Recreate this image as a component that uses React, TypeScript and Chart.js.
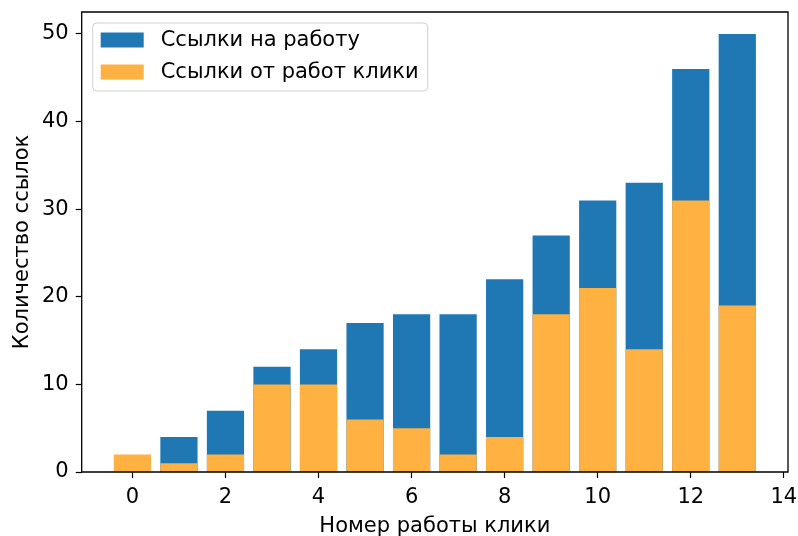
import React, { useEffect, useRef } from "react";
import { Chart, registerables } from "chart.js";

Chart.register(...registerables);

const workIndex = [0, 1, 2, 3, 4, 5, 6, 7, 8, 9, 10, 11, 12, 13];
const citationsTo = [0, 4, 7, 12, 14, 17, 18, 18, 22, 27, 31, 33, 46, 50];
const citationsFrom = [2, 1, 2, 10, 10, 6, 5, 2, 4, 18, 21, 14, 31, 19];
const xTicks = [0, 2, 4, 6, 8, 10, 12, 14];
const yTicks = [0, 10, 20, 30, 40, 50];
const seriesLabels = ["Ссылки на работу", "Ссылки от работ клики"];
const seriesColors = ["#1f77b4", "#ffb142"];
const xTitle = "Номер работы клики";
const yTitle = "Количество ссылок";

const FONT = "'DejaVu Sans', sans-serif";
const FS = 21;

const framePlugin = {
  id: "frame",
  afterDatasetsDraw(chart: any) {
    const { ctx, chartArea } = chart;
    const { left, right, top, bottom } = chartArea;
    ctx.save();
    ctx.strokeStyle = "#000";
    ctx.lineWidth = 1.3;
    ctx.beginPath();
    ctx.moveTo(left, bottom);
    ctx.lineTo(left, top);
    ctx.lineTo(right, top);
    ctx.lineTo(right, bottom);
    ctx.lineTo(left, bottom);
    ctx.stroke();

    // legend box
    const bx = left + 11;
    const by = top + 11;
    const bw = 335;
    const bh = 68;
    const r = 4;
    ctx.beginPath();
    ctx.moveTo(bx + r, by);
    ctx.lineTo(bx + bw - r, by);
    ctx.arcTo(bx + bw, by, bx + bw, by + r, r);
    ctx.lineTo(bx + bw, by + bh - r);
    ctx.arcTo(bx + bw, by + bh, bx + bw - r, by + bh, r);
    ctx.lineTo(bx + r, by + bh);
    ctx.arcTo(bx, by + bh, bx, by + bh - r, r);
    ctx.lineTo(bx, by + r);
    ctx.arcTo(bx, by, bx + r, by, r);
    ctx.closePath();
    ctx.fillStyle = "rgba(255,255,255,0.8)";
    ctx.fill();
    ctx.strokeStyle = "#d0d0d0";
    ctx.lineWidth = 1;
    ctx.stroke();

    ctx.font = `${FS}px ${FONT}`;
    ctx.textBaseline = "middle";
    ctx.textAlign = "left";
    seriesLabels.forEach((lab, i) => {
      const cy = by + 17 + i * 32;
      ctx.fillStyle = seriesColors[i];
      ctx.fillRect(bx + 8, cy - 7.5, 43, 15);
      ctx.fillStyle = "#000";
      ctx.fillText(lab, bx + 68, cy + 1);
    });
    ctx.restore();
  },
};

export default function App() {
  const ref = useRef<HTMLCanvasElement>(null);
  useEffect(() => {
    if (!ref.current) return;
    const chart = new Chart(ref.current, {
      type: "bar",
      data: {
        datasets: [
          {
            label: seriesLabels[0],
            data: workIndex.map((x, i) => ({ x, y: citationsTo[i] })),
            backgroundColor: seriesColors[0],
            order: 1,
            grouped: false,
            barPercentage: 0.8,
            categoryPercentage: 1,
          },
          {
            label: seriesLabels[1],
            data: workIndex.map((x, i) => ({ x, y: citationsFrom[i] })),
            backgroundColor: seriesColors[1],
            order: 0,
            grouped: false,
            barPercentage: 0.8,
            categoryPercentage: 1,
          },
        ] as any,
      },
      options: {
        animation: false,
        responsive: false,
        maintainAspectRatio: false,
        layout: { padding: { top: 12, right: 10, left: 0, bottom: 0 } },
        plugins: { legend: { display: false }, tooltip: { enabled: false } },
        scales: {
          x: {
            type: "linear",
            min: -1.09,
            max: 14.09,
            offset: false,
            afterBuildTicks: (s: any) => {
              s.ticks = xTicks.map((v) => ({ value: v }));
            },
            afterFit: (s: any) => {
              s.height = 64;
              s.paddingLeft = 0;
              s.paddingRight = 0;
            },
            grid: {
              offset: false,
              drawOnChartArea: false,
              drawTicks: true,
              tickLength: 6,
              color: "#000",
              tickWidth: 1.2,
            },
            border: { display: false },
            ticks: {
              color: "#000",
              font: { family: FONT, size: FS },
              padding: 7,
              maxRotation: 0,
              autoSkip: false,
            },
            title: {
              display: true,
              text: xTitle,
              color: "#000",
              font: { family: FONT, size: FS },
              padding: { top: 0, bottom: -3 },
            },
          },
          y: {
            type: "linear",
            min: 0,
            max: 52.5,
            afterBuildTicks: (s: any) => {
              s.ticks = yTicks.map((v) => ({ value: v }));
            },
            afterFit: (s: any) => {
              s.width = 81.7;
              s.paddingTop = 0;
              s.paddingBottom = 0;
            },
            grid: {
              offset: false,
              drawOnChartArea: false,
              drawTicks: true,
              tickLength: 6,
              color: "#000",
              tickWidth: 1.2,
            },
            border: { display: false },
            ticks: {
              color: "#000",
              font: { family: FONT, size: FS },
              padding: 7,
              autoSkip: false,
            },
            title: {
              display: true,
              text: yTitle,
              color: "#000",
              font: { family: FONT, size: FS },
              padding: { top: 10, bottom: 0 },
            },
          },
        },
      },
      plugins: [framePlugin],
    });
    return () => chart.destroy();
  }, []);
  return (
    <div style={{ position: "fixed", left: 0, top: 0, width: 798, height: 536, background: "#fff" }}>
      <canvas ref={ref} width={798} height={536} style={{ width: 798, height: 536 }} />
    </div>
  );
}
